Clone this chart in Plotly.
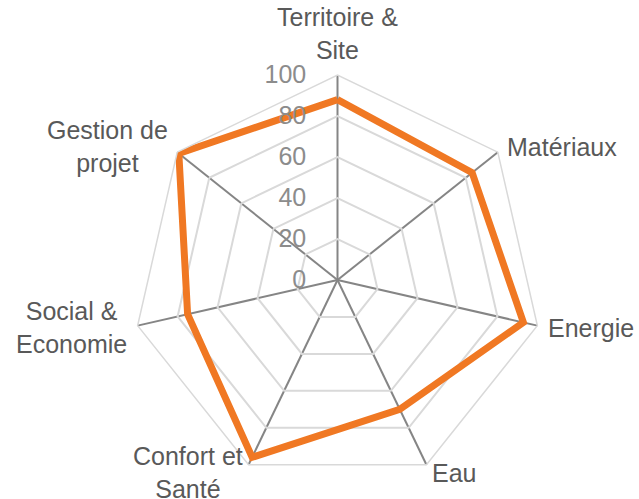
import math
import plotly.graph_objects as go

categories = [
    "Territoire &<br>Site",
    "Matériaux",
    "Energie",
    "Eau",
    "Confort et<br>Santé",
    "Social &<br>Economie",
    "Gestion de<br>projet",
]
scores = [88, 84, 93, 70, 96, 75, 99]
radial_ticks = [0, 20, 40, 60, 80, 100]

W, H = 639, 499
# polar area in pixels (square)
CX, CY, R = 337.5, 280.0, 205.0

fig = go.Figure()
fig.add_trace(
    go.Scatterpolar(
        r=scores + scores[:1],
        theta=categories + categories[:1],
        mode="lines",
        line=dict(color="#F07823", width=7),
        showlegend=False,
        hoverinfo="skip",
    )
)

# category labels placed just outside each spoke, centred text
n = len(categories)
annotations = []
for i, name in enumerate(categories):
    ang = 2 * math.pi * i / n
    s, c = math.sin(ang), math.cos(ang)
    pad = 214
    px = CX + pad * s
    py = CY - pad * c
    if s > 0.3:
        xa = "left"
    elif s < -0.3:
        xa = "right"
    else:
        xa = "center"
    ya = "bottom" if c > 0.95 else "middle"
    annotations.append(
        dict(
            x=px / W,
            y=1 - py / H,
            xref="paper",
            yref="paper",
            text=name,
            showarrow=False,
            xanchor=xa,
            yanchor=ya,
            align="center",
            font=dict(size=25, color="#595959"),
        )
    )

fig.update_layout(
    width=W,
    height=H,
    paper_bgcolor="white",
    plot_bgcolor="white",
    margin=dict(l=0, r=0, t=0, b=0),
    font=dict(family="Liberation Sans, Arial, sans-serif"),
    annotations=annotations,
    polar=dict(
        domain=dict(
            x=[(CX - R) / W, (CX + R) / W],
            y=[1 - (CY + R) / H, 1 - (CY - R) / H],
        ),
        bgcolor="white",
        gridshape="linear",
        radialaxis=dict(
            range=[0, 100],
            tickvals=radial_ticks,
            angle=90,
            tickangle=90,
            showline=False,
            gridcolor="#D9D9D9",
            gridwidth=1.5,
            ticks="outside",
            ticklen=22,
            tickcolor="rgba(0,0,0,0)",
            tickfont=dict(size=25, color="#8C8C8C"),
            side="counterclockwise",
        ),
        angularaxis=dict(
            direction="clockwise",
            rotation=90,
            gridcolor="#858585",
            gridwidth=1.6,
            linecolor="#D9D9D9",
            linewidth=1.5,
            showline=True,
            ticks="",
            showticklabels=False,
        ),
    ),
)

fig.write_html("out.html")
